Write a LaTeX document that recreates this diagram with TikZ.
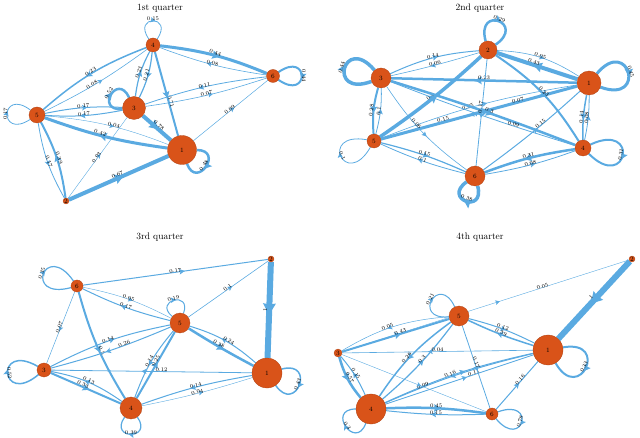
\documentclass[tikz,border=0pt]{standalone}
\usetikzlibrary{arrows.meta,decorations.markings,backgrounds}

\begin{document}
\begin{tikzpicture}[
  x=1pt,y=-1pt,
  vtx/.style={circle,draw=cnode!80!black,line width=0.3pt,fill=cnode,inner sep=0pt,
              minimum size=#1,font=\fontsize{6.5}{7}\selectfont},
  lnk/.style={draw=cedge,line width=#1,postaction={decorate},
              decoration={markings,mark=at position 0.55 with
                {\arrow{Stealth[length=4pt 1.2,width=4pt 1.4,inset=1pt]}}}},
  lbl/.style={font=\fontsize{5.5}{6}\selectfont,sloped,above=-1pt,inner sep=0.3pt},
  hdr/.style={font=\fontsize{9.5}{11}\selectfont},
]
  \definecolor{cnode}{HTML}{D95319}
  \definecolor{cedge}{HTML}{5AAAE1}
  \useasboundingbox (0,0) rectangle (640,438);

  % 1st quarter
  \node[hdr] (t1) at (160,8) {1st quarter};
  \node[vtx=14pt] (a4) at (153,45) {4};
  \node[vtx=13pt] (a6) at (273,76) {6};
  \node[vtx=23pt] (a3) at (134,108) {3};
  \node[vtx=16pt] (a5) at (37,115) {5};
  \node[vtx=29pt] (a1) at (182,150) {1};
  \node[vtx=6pt]  (a2) at (66,201) {2};
  \begin{scope}[on background layer]
    \draw[lnk=0.8pt] (a4) to[out=125,in=55,min distance=30pt] node[lbl]{0.15} (a4);
    \draw[lnk=2pt] (a6) to[out=35,in=-35,min distance=38pt] node[lbl]{0.44} (a6);
    \draw[lnk=0.8pt] (a5) to[out=213,in=143,min distance=38pt] node[lbl]{0.17} (a5);
    \draw[lnk=2.5pt] (a3) to[out=185,in=115,min distance=28pt] node[lbl]{0.52} (a3);
    \draw[lnk=2.5pt] (a1) to[out=0,in=-70,min distance=28pt] node[lbl]{0.48} (a1);
    \draw[lnk=3pt] (a4) to[bend left=8] node[lbl]{0.44} (a6);
    \draw[lnk=0.6pt] (a6) to[bend left=6] node[lbl]{0.08} (a4);
    \draw[lnk=1.5pt] (a4) to[bend right=10] node[lbl]{0.23} (a5);
    \draw[lnk=0.6pt] (a5) to[bend right=5] node[lbl,pos=0.45]{0.08} (a4);
    \draw[lnk=1.2pt] (a3) to[bend left=10] node[lbl]{0.23} (a4);
    \draw[lnk=1.2pt] (a4) to[bend left=10] node[lbl]{0.21} (a3);
    \draw[lnk=2pt] (a4) -- node[lbl,pos=0.6]{0.71} (a1);
    \draw[lnk=0.8pt] (a6) to[bend right=6] node[lbl]{0.11} (a3);
    \draw[lnk=0.6pt] (a3) to[bend right=5] node[lbl]{0.07} (a6);
    \draw[lnk=0.5pt] (a1) -- node[lbl]{0.09} (a6);
    \draw[lnk=1pt] (a5) to[bend left=7] node[lbl]{0.17} (a3);
    \draw[lnk=1pt] (a3) to[bend left=7] node[lbl]{0.17} (a5);
    \draw[lnk=0.4pt] (a5) to[bend left=8] node[lbl,pos=0.55]{0.04} (a1);
    \draw[lnk=3pt] (a1) to[bend left=6] node[lbl,pos=0.55]{0.42} (a5);
    \draw[lnk=4pt] (a3) -- node[lbl]{0.78} (a1);
    \draw[lnk=0.8pt] (a5) to[bend right=10] node[lbl]{0.17} (a2);
    \draw[lnk=2pt] (a2) to[bend right=10] node[lbl]{0.39} (a5);
    \draw[lnk=0.4pt] (a2) -- node[lbl]{0.03} (a3);
    \draw[lnk=4pt] (a2) -- node[lbl]{0.67} (a1);
  \end{scope}

  % 2nd quarter
  \node[hdr] (t2) at (480,8) {2nd quarter};
  \node[vtx=18pt] (b2) at (488,50) {2};
  \node[vtx=20pt] (b3) at (381,78) {3};
  \node[vtx=24pt] (b1) at (589,83) {1};
  \node[vtx=14pt] (b5) at (374,141) {5};
  \node[vtx=16pt] (b4) at (583,148) {4};
  \node[vtx=20pt] (b6) at (475,176) {6};
  \begin{scope}[on background layer]
    \draw[lnk=2.5pt] (b2) to[out=105,in=35,min distance=38pt] node[lbl]{0.29} (b2);
    \draw[lnk=3.5pt] (b3) to[out=200,in=130,min distance=48pt] node[lbl]{0.44} (b3);
    \draw[lnk=3pt] (b1) to[out=50,in=-20,min distance=50pt] node[lbl]{0.45} (b1);
    \draw[lnk=0.8pt] (b5) to[out=240,in=170,min distance=50pt] node[lbl]{0.1} (b5);
    \draw[lnk=2pt] (b4) to[out=25,in=-45,min distance=55pt] node[lbl]{0.31} (b4);
    \draw[lnk=3.5pt] (b6) to[out=-75,in=-145,min distance=30pt] node[lbl]{0.38} (b6);
    \draw[lnk=1pt] (b3) to[bend left=10] node[lbl]{0.14} (b2);
    \draw[lnk=0.6pt] (b2) to[bend left=2] node[lbl]{0.06} (b3);
    \draw[lnk=0.6pt] (b2) to[bend left=15] node[lbl]{0.05} (b1);
    \draw[lnk=4pt] (b1) -- node[lbl,pos=0.55]{0.43} (b2);
    \draw[lnk=2.5pt] (b1) -- node[lbl]{0.23} (b3);
    \draw[lnk=3.5pt] (b5) to[bend right=4] node[lbl]{0.4} (b2);
    \draw[lnk=2pt] (b3) to[bend right=10] node[lbl]{0.28} (b5);
    \draw[lnk=0.8pt] (b5) to[bend right=8] node[lbl]{0.1} (b3);
    \draw[lnk=3pt] (b5) -- node[lbl,pos=0.32]{0.15} (b1);
    \draw[lnk=0.6pt] (b5) to[bend left=6] node[lbl,pos=0.45]{0.05} (b1);
    \draw[lnk=0.8pt] (b1) -- node[lbl,pos=0.3]{0.07} (b5);
    \draw[lnk=1.2pt] (b5) to[bend left=5] node[lbl]{0.15} (b6);
    \draw[lnk=0.8pt] (b6) to[bend left=5] node[lbl]{0.1} (b5);
    \draw[lnk=2.5pt] (b3) to[bend left=2] node[lbl,pos=0.53]{0.3} (b4);
    \draw[lnk=0.8pt] (b4) to[bend left=2] node[lbl,pos=0.32]{0.09} (b3);
    \draw[lnk=0.6pt] (b3) to[bend right=10] node[lbl,pos=0.4]{0.06} (b6);
    \draw[lnk=1pt] (b6) to[bend right=3] node[lbl,pos=0.6]{0.15} (b1);
    \draw[lnk=2.5pt] (b4) to[bend right=6] node[lbl]{0.31} (b6);
    \draw[lnk=0.8pt] (b6) to[bend right=5] node[lbl]{0.08} (b4);
    \draw[lnk=1.5pt] (b1) to[bend right=6] node[lbl]{0.14} (b4);
    \draw[lnk=0.8pt] (b4) to[bend right=6] node[lbl]{0.08} (b1);
    \draw[lnk=2pt] (b2) to[bend left=12] node[lbl]{0.23} (b4);
    \draw[lnk=0.8pt] (b2) -- node[lbl,pos=0.45]{0.17} (b6);
  \end{scope}

  % 3rd quarter
  \node[hdr] (t3) at (160,237) {3rd quarter};
  \node[vtx=6pt]  (c2) at (271,259) {2};
  \node[vtx=12pt] (c6) at (77,286) {6};
  \node[vtx=20pt] (c5) at (180,323) {5};
  \node[vtx=14pt] (c3) at (44,370) {3};
  \node[vtx=30pt] (c1) at (267,373) {1};
  \node[vtx=22pt] (c4) at (131,408) {4};
  \begin{scope}[on background layer]
    \draw[lnk=1.2pt] (c6) to[out=195,in=125,min distance=50pt] node[lbl]{0.35} (c6);
    \draw[lnk=1pt] (c5) to[out=140,in=70,min distance=25pt] node[lbl]{0.19} (c5);
    \draw[lnk=1.5pt] (c3) to[out=220,in=150,min distance=50pt] node[lbl]{0.52} (c3);
    \draw[lnk=1.5pt] (c1) to[out=15,in=-55,min distance=36pt] node[lbl]{0.43} (c1);
    \draw[lnk=1.2pt] (c4) to[out=-55,in=-125,min distance=28pt] node[lbl]{0.39} (c4);
    \draw[lnk=1pt] (c6) -- node[lbl]{0.17} (c2);
    \draw[lnk=0.6pt] (c5) -- node[lbl]{0.1} (c2);
    \draw[lnk=6pt] (c2) -- node[lbl]{1} (c1);
    \draw[lnk=0.4pt] (c6) to[bend left=8] node[lbl]{0.05} (c5);
    \draw[lnk=1pt] (c5) to[bend left=6] node[lbl]{0.17} (c6);
    \draw[lnk=0.5pt] (c6) -- node[lbl]{0.07} (c3);
    \draw[lnk=2pt] (c6) to[bend right=8] node[lbl,pos=0.55]{0.5} (c4);
    \draw[lnk=1pt] (c3) to[bend left=8] node[lbl,pos=0.5]{0.14} (c5);
    \draw[lnk=1pt] (c5) to[bend left=4] node[lbl,pos=0.38]{0.26} (c3);
    \draw[lnk=2pt] (c4) -- node[lbl,pos=0.55]{0.25} (c5);
    \draw[lnk=1pt] (c5) to[bend right=10] node[lbl]{0.14} (c4);
    \draw[lnk=0.8pt] (c1) -- node[lbl,pos=0.45]{0.12} (c3);
    \draw[lnk=2pt] (c3) -- node[lbl,pos=0.45]{0.33} (c4);
    \draw[lnk=1pt] (c4) to[bend right=12] node[lbl]{0.13} (c3);
    \draw[lnk=1pt] (c1) to[bend right=5] node[lbl]{0.14} (c4);
    \draw[lnk=0.4pt] (c4) to[bend right=3] node[lbl]{0.04} (c1);
    \draw[lnk=2.5pt] (c5) to[bend right=2] node[lbl,pos=0.45]{0.38} (c1);
    \draw[lnk=1pt] (c1) to[bend right=12] node[lbl,pos=0.45]{0.24} (c5);
  \end{scope}

  % 4th quarter
  \node[hdr] (t4) at (480,237) {4th quarter};
  \node[vtx=6pt]  (d2) at (632,259) {2};
  \node[vtx=20pt] (d5) at (459,316) {5};
  \node[vtx=8pt]  (d3) at (338,353) {3};
  \node[vtx=30pt] (d1) at (548,350) {1};
  \node[vtx=30pt] (d4) at (371,409) {4};
  \node[vtx=12pt] (d6) at (492,414) {6};
  \begin{scope}[on background layer]
    \draw[lnk=1pt] (d5) to[out=185,in=115,min distance=38pt] node[lbl]{0.21} (d5);
    \draw[lnk=2pt] (d1) to[out=10,in=-60,min distance=48pt] node[lbl]{0.33} (d1);
    \draw[lnk=1.2pt] (d4) to[out=250,in=180,min distance=30pt] node[lbl]{0.3} (d4);
    \draw[lnk=1.2pt] (d6) to[out=20,in=-50,min distance=42pt] node[lbl]{0.78} (d6);
    \draw[lnk=6pt] (d2) -- node[lbl]{1} (d1);
    \draw[lnk=0.4pt] (d3) -- node[lbl,pos=0.7]{0.05} (d2);
    \draw[lnk=0.5pt] (d5) to[bend right=13] node[lbl,pos=0.55]{0.05} (d3);
    \draw[lnk=2pt] (d3) -- node[lbl,pos=0.55]{0.43} (d5);
    \draw[lnk=1.5pt] (d5) to[bend right=10] node[lbl,pos=0.55]{0.26} (d4);
    \draw[lnk=1.2pt] (d4) to[bend right=6] node[lbl,pos=0.55]{0.3} (d5);
    \draw[lnk=0.6pt] (d1) -- node[lbl]{0.04} (d3);
    \draw[lnk=2.5pt] (d3) to[bend right=12] node[lbl]{0.57} (d4);
    \draw[lnk=1pt] (d4) to[bend right=8] node[lbl]{0.15} (d3);
    \draw[lnk=1pt] (d4) to[bend left=6] node[lbl,pos=0.45]{0.16} (d1);
    \draw[lnk=0.8pt] (d4) -- node[lbl,pos=0.6]{0.11} (d1);
    \draw[lnk=1pt] (d1) to[bend right=5] node[lbl,pos=0.75]{0.09} (d4);
    \draw[lnk=0.8pt] (d5) -- node[lbl,pos=0.45]{0.17} (d6);
    \draw[lnk=2.5pt] (d4) to[bend left=5] node[lbl]{0.45} (d6);
    \draw[lnk=1pt] (d6) to[bend left=4] node[lbl]{0.15} (d4);
    \draw[lnk=1pt] (d5) to[bend left=6] node[lbl]{0.12} (d1);
    \draw[lnk=1.5pt] (d1) to[bend left=4] node[lbl]{0.39} (d5);
    \draw[lnk=1pt] (d6) -- node[lbl,pos=0.6]{0.16} (d1);
    \draw[lnk=0.4pt] (d3) -- (d6);
  \end{scope}
\end{tikzpicture}
\end{document}
